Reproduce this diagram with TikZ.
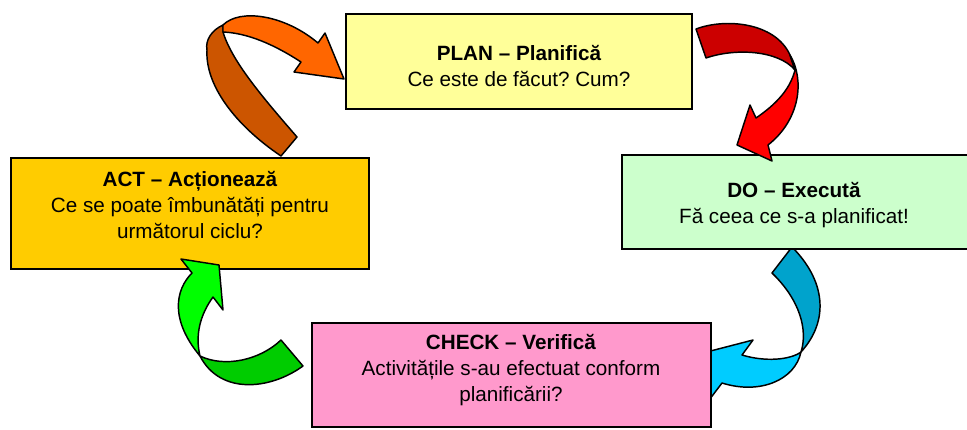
\documentclass[tikz,border=0pt]{standalone}
\usepackage{fontspec}
\setmainfont{Liberation Sans}
\usepackage{tikz}
\definecolor{planfill}{HTML}{FFFF99}
\definecolor{dofill}{HTML}{CCFFCC}
\definecolor{checkfill}{HTML}{FF99CC}
\definecolor{actfill}{HTML}{FFCC00}
\definecolor{orangefront}{HTML}{FF6600}
\definecolor{orangeback}{HTML}{CC5500}
\definecolor{redfront}{HTML}{FF0000}
\definecolor{redback}{HTML}{CC0000}
\definecolor{bluefront}{HTML}{00CCFF}
\definecolor{blueback}{HTML}{00A3CC}
\definecolor{greenfront}{HTML}{00FF00}
\definecolor{greenback}{HTML}{00CC00}
\tikzset{
	box/.style={draw=black, line width=1.5pt, inner sep=0pt},
	txt/.style={align=center, inner sep=0pt, font=\fontsize{15.5}{19.5}\selectfont},
	ribbon/.style={draw=black, line width=1.1pt, line join=round}
}
\frenchspacing

\begin{document}
\begin{tikzpicture}[x=0.75pt, y=-0.75pt]
	\useasboundingbox (0,0) rectangle (967,429);

	% DO -> CHECK, its head goes under the CHECK box
	\filldraw[ribbon, fill=blueback] (792,247) .. controls (825,280) and (830,320) .. (801,352)
		.. controls (808,330) and (800,300) .. (772,273) -- cycle;
	\filldraw[ribbon, fill=bluefront] (801,352) .. controls (795,380) and (760,395) .. (722,383)
		-- (700,412) -- (695,355) -- (753,340) -- (742,355)
		.. controls (765,362) and (790,360) .. (801,352) -- cycle;

	\node[box, fill=planfill, minimum width=259.5pt, minimum height=71.25pt] (plan) at (519,61.5) {};
	\node[box, fill=dofill, minimum width=259.5pt, minimum height=70.5pt] (do) at (795,202) {};
	\node[box, fill=checkfill, minimum width=299.25pt, minimum height=78pt] (check) at (511.5,375) {};
	\node[box, fill=actfill, minimum width=268.5pt, minimum height=83.25pt] (act) at (190,213.5) {};

	\node[txt] (plan-text) at (519,66) {\textbf{PLAN – Planifică}\\Ce este de făcut? Cum?};
	\node[txt] (do-text) at (794,205) {\textbf{DO – Execută}\\Fă ceea ce s-a planificat!};
	\node[txt] (check-text) at (511,370) {\textbf{CHECK – Verifică}\\Activitățile s-au efectuat conform\\planificării?};
	\node[txt] (act-text) at (190,205) {\textbf{ACT – Acționează}\\Ce se poate îmbunătăți pentru\\următorul ciclu?};

	% ACT -> PLAN
	\filldraw[ribbon, fill=orangeback] (281,156) -- (297,137) .. controls (265,100) and (232,62) .. (223,32)
		-- (223,25) .. controls (212,30) and (205,40) .. (207,50)
		.. controls (205,85) and (235,125) .. (281,156) -- cycle;
	\filldraw[ribbon, fill=orangefront] (223,25) .. controls (240,8) and (285,15) .. (318,43)
		-- (325,33) -- (344,79) -- (294,72) -- (301,62)
		.. controls (275,45) and (248,33) .. (223,32) -- cycle;

	% PLAN -> DO
	\filldraw[ribbon, fill=redback] (696,29) .. controls (725,18) and (775,22) .. (790,55)
		-- (795,70) .. controls (778,50) and (735,48) .. (706,58) -- cycle;
	\filldraw[ribbon, fill=redfront] (790,55) .. controls (805,80) and (800,120) .. (768,145)
		-- (772,161) -- (737,145) -- (750,105) -- (756,118)
		.. controls (775,105) and (790,90) .. (795,70) -- cycle;

	% CHECK -> ACT
	\filldraw[ribbon, fill=greenback] (281,340) -- (303,366) .. controls (270,390) and (220,395) .. (200,356)
		.. controls (225,368) and (260,360) .. (281,340) -- cycle;
	\filldraw[ribbon, fill=greenfront] (200,356) .. controls (170,320) and (175,290) .. (192,273)
		-- (181,259) -- (219,265) -- (223,310) -- (213,297)
		.. controls (200,315) and (195,335) .. (200,356) -- cycle;
\end{tikzpicture}
\end{document}
